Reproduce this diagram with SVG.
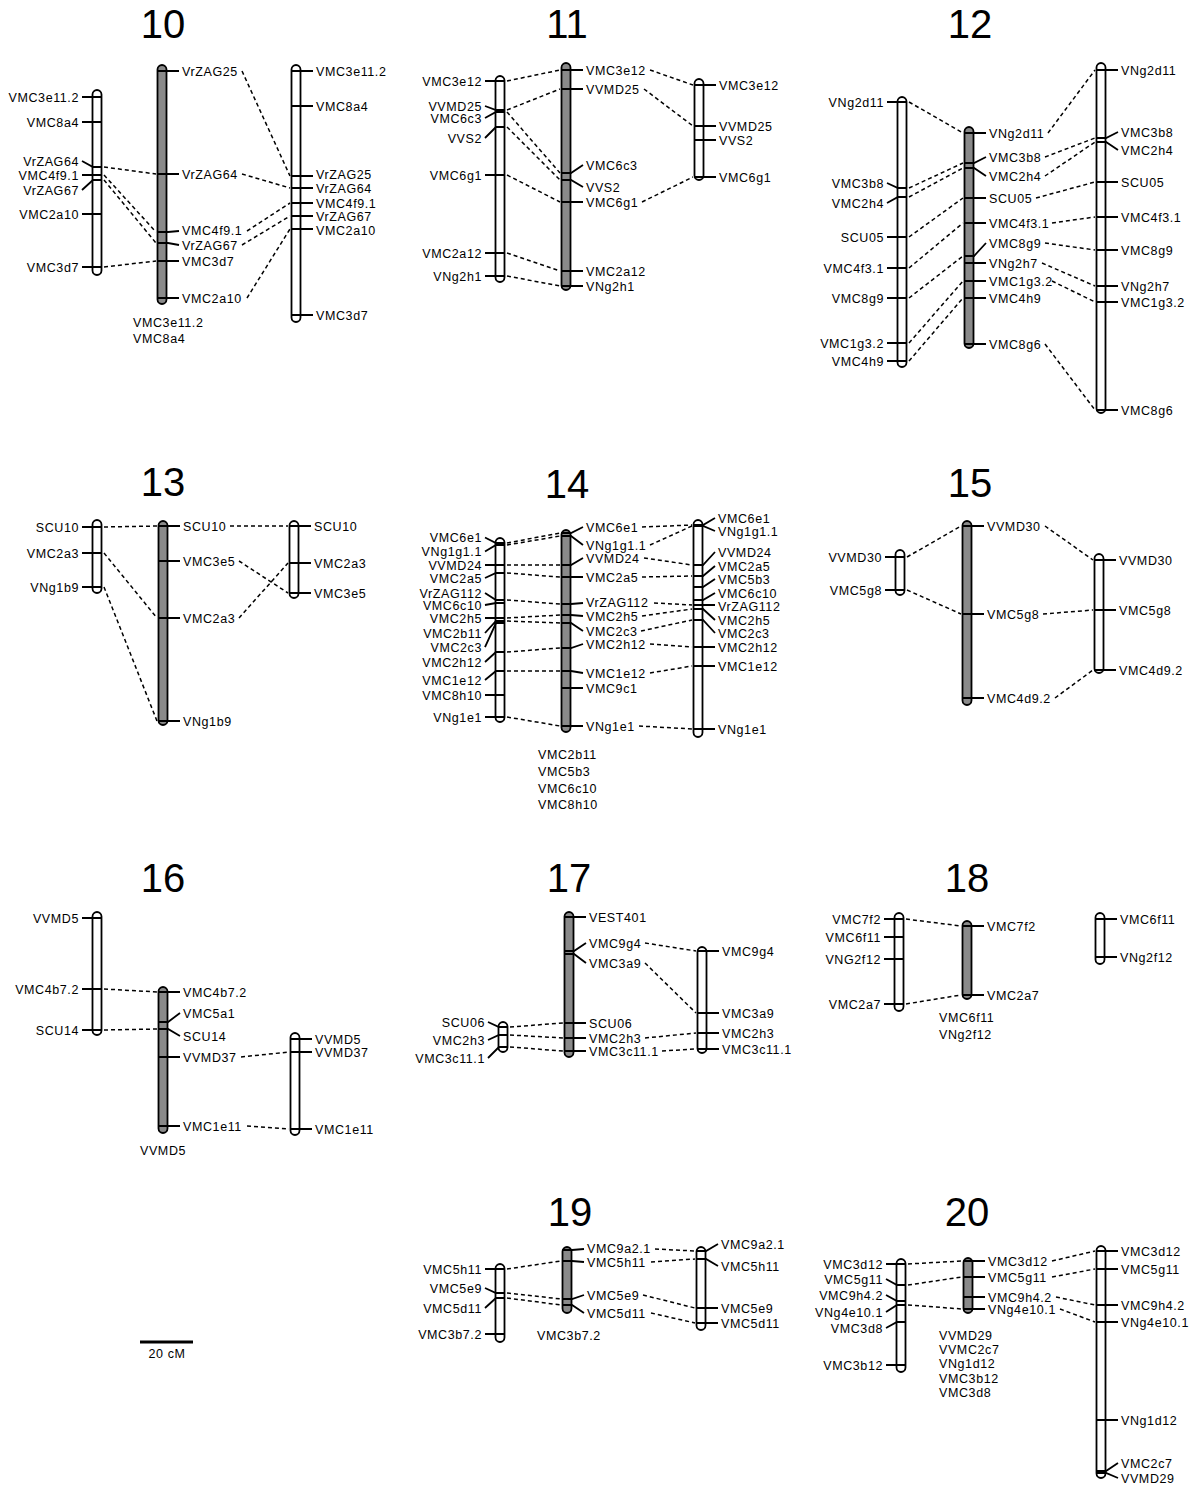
<svg xmlns="http://www.w3.org/2000/svg" width="1197" height="1487" viewBox="0 0 1197 1487">
<style>
.c{fill:#fff;stroke:#000;stroke-width:1.8}
.g{fill:#8a8a8a}
.t{fill:none;stroke:#000;stroke-width:1.8}
.d{fill:none;stroke:#000;stroke-width:1.5;stroke-dasharray:4 3}
text{font-family:"Liberation Sans",Arial,sans-serif;font-size:12.5px;letter-spacing:0.6px;fill:#000}
.e{text-anchor:end}
.h{font-size:40px;text-anchor:middle;letter-spacing:0}
.s{text-anchor:middle}
</style>
<rect width="1197" height="1487" fill="#fff"/>

<g id="titles">
<text class="h" x="163" y="38">10</text>
<text class="h" x="567" y="38">11</text>
<text class="h" x="970" y="38">12</text>
<text class="h" x="163" y="496">13</text>
<text class="h" x="567" y="498">14</text>
<text class="h" x="970" y="497">15</text>
<text class="h" x="163" y="892">16</text>
<text class="h" x="569" y="892">17</text>
<text class="h" x="967" y="892">18</text>
<text class="h" x="570" y="1226">19</text>
<text class="h" x="967" y="1226">20</text>
</g>

<g id="connectors">
<path class="d" d="M104 167L156 174M104 175L156 232M104 180L156 243M104 267L156 261M242 71L290 176M242 174L290 188M247 231L290 203M242 245L290 216M247 298L290 229"/>
<path class="d" d="M507 81L560 70M507 110L560 89M507 112L560 173M507 127L560 180M507 175L560 202M507 253L560 271M507 276L560 286M650 70L693 85M644 89L693 126M642 202L693 177"/>
<path class="d" d="M909 102L963 133M909 188L963 163M909 197L963 168M909 237L963 198M909 268L963 223M909 298L963 256M909 343L963 281M909 361L963 298M1048 133L1095 70M1045 157L1095 138M1045 176L1095 142M1036 198L1095 182M1052 223L1095 217M1045 243L1095 250M1042 263L1095 286M1052 281L1095 302M1045 344L1095 410"/>
<path class="d" d="M104 527L157 526M104 553L157 618M104 587L157 721M230 526L288 526M239 561L288 593M239 618L288 563"/>
<path class="d" d="M507 543L560 533M507 545L560 536M507 565L560 565M507 573L560 577M507 600L560 604M507 618L560 615M507 621L560 623M507 652L560 648M507 671L560 671M507 717L560 726M642 527L692 525M650 545L692 526M644 558L692 565M642 577L692 576M654 603L692 605M642 616L692 609M641 631L692 620M650 644L692 647M650 673L692 666M639 726L692 729"/>
<path class="d" d="M907 557L961 526M907 590L961 614M1045 526L1093 560M1043 614L1093 610M1055 698L1093 670"/>
<path class="d" d="M104 989L157 992M104 1030L157 1029M241 1057L289 1052M247 1126L289 1129"/>
<path class="d" d="M510 1027L563 1023M510 1035L563 1038M510 1047L563 1051M645 943L696 951M645 963L696 1013M645 1038L696 1033M662 1051L696 1049"/>
<path class="d" d="M906 919L961 926M906 1004L961 995"/>
<path class="d" d="M507 1269L561 1261M507 1293L561 1299M507 1298L561 1305M655 1249L695 1251M651 1262L695 1259M643 1295L695 1308M651 1313L695 1323"/>
<path class="d" d="M908 1264L962 1261M908 1285L962 1277M908 1305L962 1309M1052 1261L1095 1251M1052 1277L1095 1269M1056 1297L1095 1305M1060 1309L1095 1322"/>
</g>

<!-- Panel 10 -->
<g id="chr10-a">
<rect class="c" x="92.5" y="90" width="9" height="185" rx="4.5"/>
<path class="t" d="M82 97H101.5M82 122H101.5M82 161L93 167H101.5M82 175H101.5M82 190L93 180H101.5M82 214H101.5M82 267H101.5"/>
<text class="e" x="79" y="101.5">VMC3e11.2</text>
<text class="e" x="79" y="126.5">VMC8a4</text>
<text class="e" x="79" y="165.5">VrZAG64</text>
<text class="e" x="79" y="179.5">VMC4f9.1</text>
<text class="e" x="79" y="194.5">VrZAG67</text>
<text class="e" x="79" y="218.5">VMC2a10</text>
<text class="e" x="79" y="271.5">VMC3d7</text>
</g>
<g id="chr10-b">
<rect class="c g" x="157.5" y="65" width="9" height="239" rx="4.5"/>
<path class="t" d="M157.5 71H179M157.5 174H179M157.5 232H168L179 231M157.5 243H168L179 245M157.5 261H179M157.5 298H179"/>
<text x="182" y="75.5">VrZAG25</text>
<text x="182" y="178.5">VrZAG64</text>
<text x="182" y="235">VMC4f9.1</text>
<text x="182" y="249.5">VrZAG67</text>
<text x="182" y="265.5">VMC3d7</text>
<text x="182" y="302.5">VMC2a10</text>
<text x="133" y="326.5">VMC3e11.2</text>
<text x="133" y="342.5">VMC8a4</text>
</g>
<g id="chr10-c">
<rect class="c" x="291.5" y="65" width="9" height="257" rx="4.5"/>
<path class="t" d="M291.5 71H313M291.5 106H313M291.5 176H313M291.5 188H313M291.5 203H313M291.5 216H313M291.5 229H313M291.5 315H313"/>
<text x="316" y="75.5">VMC3e11.2</text>
<text x="316" y="110.5">VMC8a4</text>
<text x="316" y="178.5">VrZAG25</text>
<text x="316" y="192.5">VrZAG64</text>
<text x="316" y="207.5">VMC4f9.1</text>
<text x="316" y="220.5">VrZAG67</text>
<text x="316" y="234.5">VMC2a10</text>
<text x="316" y="319.5">VMC3d7</text>
</g>

<!-- Panel 11 -->
<g id="chr11-a">
<rect class="c" x="495.5" y="76" width="9" height="206" rx="4.5"/>
<path class="t" d="M485 81H504.5M485 106L496 110H504.5M485 118L496 112H504.5M485 138L496 127H504.5M485 175H504.5M485 253H504.5M485 276H504.5"/>
<text class="e" x="482" y="85.5">VMC3e12</text>
<text class="e" x="482" y="110.5">VVMD25</text>
<text class="e" x="482" y="122.5">VMC6c3</text>
<text class="e" x="482" y="142.5">VVS2</text>
<text class="e" x="482" y="179.5">VMC6g1</text>
<text class="e" x="482" y="257.5">VMC2a12</text>
<text class="e" x="482" y="280.5">VNg2h1</text>
</g>
<g id="chr11-b">
<rect class="c g" x="561.5" y="63" width="9" height="227" rx="4.5"/>
<path class="t" d="M561.5 70H583M561.5 89H583M561.5 173H571L583 165M561.5 180H571L583 187M561.5 202H583M561.5 271H583M561.5 286H583"/>
<text x="586" y="74.5">VMC3e12</text>
<text x="586" y="93.5">VVMD25</text>
<text x="586" y="169.5">VMC6c3</text>
<text x="586" y="191.5">VVS2</text>
<text x="586" y="206.5">VMC6g1</text>
<text x="586" y="275.5">VMC2a12</text>
<text x="586" y="290.5">VNg2h1</text>
</g>
<g id="chr11-c">
<rect class="c" x="694.5" y="79" width="9" height="101" rx="4.5"/>
<path class="t" d="M694.5 85H716M694.5 126H716M694.5 140H716M694.5 177H716"/>
<text x="719" y="89.5">VMC3e12</text>
<text x="719" y="130.5">VVMD25</text>
<text x="719" y="144.5">VVS2</text>
<text x="719" y="181.5">VMC6g1</text>
</g>

<!-- Panel 12 -->
<g id="chr12-a">
<rect class="c" x="897.5" y="97" width="9" height="270" rx="4.5"/>
<path class="t" d="M887 102H906.5M887 183L898 188H906.5M887 203L898 197H906.5M887 237H906.5M887 268H906.5M887 298H906.5M887 343H906.5M887 361H906.5"/>
<text class="e" x="884" y="106.5">VNg2d11</text>
<text class="e" x="884" y="187.5">VMC3b8</text>
<text class="e" x="884" y="207.5">VMC2h4</text>
<text class="e" x="884" y="241.5">SCU05</text>
<text class="e" x="884" y="272.5">VMC4f3.1</text>
<text class="e" x="884" y="302.5">VMC8g9</text>
<text class="e" x="884" y="347.5">VMC1g3.2</text>
<text class="e" x="884" y="365.5">VMC4h9</text>
</g>
<g id="chr12-b">
<rect class="c g" x="964.5" y="127" width="9" height="221" rx="4.5"/>
<path class="t" d="M964.5 133H986M964.5 163H974L986 157M964.5 168H974L986 176M964.5 198H986M964.5 223H986M964.5 256H974L986 243M964.5 263H986M964.5 281H986M964.5 298H986M964.5 344H986"/>
<text x="989" y="137.5">VNg2d11</text>
<text x="989" y="161.5">VMC3b8</text>
<text x="989" y="180.5">VMC2h4</text>
<text x="989" y="202.5">SCU05</text>
<text x="989" y="227.5">VMC4f3.1</text>
<text x="989" y="247.5">VMC8g9</text>
<text x="989" y="267.5">VNg2h7</text>
<text x="989" y="285.5">VMC1g3.2</text>
<text x="989" y="302.5">VMC4h9</text>
<text x="989" y="348.5">VMC8g6</text>
</g>
<g id="chr12-c">
<rect class="c" x="1096.5" y="63" width="9" height="350" rx="4.5"/>
<path class="t" d="M1096.5 70H1118M1096.5 138H1106L1118 132M1096.5 142H1106L1118 150M1096.5 182H1118M1096.5 217H1118M1096.5 250H1118M1096.5 286H1118M1096.5 302H1118M1096.5 410H1118"/>
<text x="1121" y="74.5">VNg2d11</text>
<text x="1121" y="136.5">VMC3b8</text>
<text x="1121" y="154.5">VMC2h4</text>
<text x="1121" y="186.5">SCU05</text>
<text x="1121" y="221.5">VMC4f3.1</text>
<text x="1121" y="254.5">VMC8g9</text>
<text x="1121" y="290.5">VNg2h7</text>
<text x="1121" y="306.5">VMC1g3.2</text>
<text x="1121" y="414.5">VMC8g6</text>
</g>

<!-- Panel 13 -->
<g id="chr13-a">
<rect class="c" x="92.5" y="520" width="9" height="73" rx="4.5"/>
<path class="t" d="M82 527H101.5M82 553H101.5M82 587H101.5"/>
<text class="e" x="79" y="531.5">SCU10</text>
<text class="e" x="79" y="557.5">VMC2a3</text>
<text class="e" x="79" y="591.5">VNg1b9</text>
</g>
<g id="chr13-b">
<rect class="c g" x="158.5" y="521" width="9" height="204" rx="4.5"/>
<path class="t" d="M158.5 526H180M158.5 561H180M158.5 618H180M158.5 721H180"/>
<text x="183" y="530.5">SCU10</text>
<text x="183" y="565.5">VMC3e5</text>
<text x="183" y="622.5">VMC2a3</text>
<text x="183" y="725.5">VNg1b9</text>
</g>
<g id="chr13-c">
<rect class="c" x="289.5" y="521" width="9" height="77" rx="4.5"/>
<path class="t" d="M289.5 526H311M289.5 563H311M289.5 593H311"/>
<text x="314" y="530.5">SCU10</text>
<text x="314" y="567.5">VMC2a3</text>
<text x="314" y="597.5">VMC3e5</text>
</g>

<!-- Panel 14 -->
<g id="chr14-a">
<rect class="c" x="495.5" y="538" width="9" height="184" rx="4.5"/>
<path class="t" d="M485 537.5L496 543H504.5M485 551.5L496 545H504.5M485 565H504.5M485 578L496 573H504.5M485 593L496 600H504.5M485 605L496 603H504.5M485 618H504.5M485 633L496 621H504.5M485 647L496 623H504.5M485 662L496 652H504.5M485 680L496 671H504.5M485 695H504.5M485 717H504.5"/>
<text class="e" x="482" y="542">VMC6e1</text>
<text class="e" x="482" y="556">VNg1g1.1</text>
<text class="e" x="482" y="569.5">VVMD24</text>
<text class="e" x="482" y="582.5">VMC2a5</text>
<text class="e" x="482" y="597.5">VrZAG112</text>
<text class="e" x="482" y="609.5">VMC6c10</text>
<text class="e" x="482" y="622.5">VMC2h5</text>
<text class="e" x="482" y="637.5">VMC2b11</text>
<text class="e" x="482" y="651.5">VMC2c3</text>
<text class="e" x="482" y="666.5">VMC2h12</text>
<text class="e" x="482" y="684.5">VMC1e12</text>
<text class="e" x="482" y="699.5">VMC8h10</text>
<text class="e" x="482" y="721.5">VNg1e1</text>
</g>
<g id="chr14-b">
<rect class="c g" x="561.5" y="530" width="9" height="202" rx="4.5"/>
<path class="t" d="M561.5 533H571L583 527M561.5 536H571L583 545M561.5 565H571L583 558M561.5 577H583M561.5 604H571L583 603M561.5 615H571L583 616M561.5 623H571L583 631M561.5 648H571L583 644M561.5 671H571L583 673M561.5 688H583M561.5 726H583"/>
<text x="586" y="531.5">VMC6e1</text>
<text x="586" y="549.5">VNg1g1.1</text>
<text x="586" y="562.5">VVMD24</text>
<text x="586" y="581.5">VMC2a5</text>
<text x="586" y="607">VrZAG112</text>
<text x="586" y="621">VMC2h5</text>
<text x="586" y="635.5">VMC2c3</text>
<text x="586" y="648.5">VMC2h12</text>
<text x="586" y="677.5">VMC1e12</text>
<text x="586" y="692.5">VMC9c1</text>
<text x="586" y="730.5">VNg1e1</text>
<text x="538" y="758.5">VMC2b11</text>
<text x="538" y="775.5">VMC5b3</text>
<text x="538" y="792.5">VMC6c10</text>
<text x="538" y="808.5">VMC8h10</text>
</g>
<g id="chr14-c">
<rect class="c" x="693.5" y="520" width="9" height="217" rx="4.5"/>
<path class="t" d="M693.5 525H703L715 518M693.5 526H703L715 531M693.5 565H703L715 552M693.5 576H703L715 566M693.5 587H703L715 579M693.5 600H703L715 593M693.5 605H715M693.5 609H703L715 620M693.5 620H703L715 633M693.5 647H715M693.5 666H715M693.5 729H715"/>
<text x="718" y="522.5">VMC6e1</text>
<text x="718" y="535.5">VNg1g1.1</text>
<text x="718" y="556.5">VVMD24</text>
<text x="718" y="570.5">VMC2a5</text>
<text x="718" y="583.5">VMC5b3</text>
<text x="718" y="597.5">VMC6c10</text>
<text x="718" y="610.5">VrZAG112</text>
<text x="718" y="624.5">VMC2h5</text>
<text x="718" y="637.5">VMC2c3</text>
<text x="718" y="651.5">VMC2h12</text>
<text x="718" y="670.5">VMC1e12</text>
<text x="718" y="733.5">VNg1e1</text>
</g>

<!-- Panel 15 -->
<g id="chr15-a">
<rect class="c" x="895.5" y="550" width="9" height="45" rx="4.5"/>
<path class="t" d="M885 557H904.5M885 590H904.5"/>
<text class="e" x="882" y="561.5">VVMD30</text>
<text class="e" x="882" y="594.5">VMC5g8</text>
</g>
<g id="chr15-b">
<rect class="c g" x="962.5" y="521" width="9" height="184" rx="4.5"/>
<path class="t" d="M962.5 526H984M962.5 614H984M962.5 698H984"/>
<text x="987" y="530.5">VVMD30</text>
<text x="987" y="618.5">VMC5g8</text>
<text x="987" y="702.5">VMC4d9.2</text>
</g>
<g id="chr15-c">
<rect class="c" x="1094.5" y="554" width="9" height="119" rx="4.5"/>
<path class="t" d="M1094.5 560H1116M1094.5 610H1116M1094.5 670H1116"/>
<text x="1119" y="564.5">VVMD30</text>
<text x="1119" y="614.5">VMC5g8</text>
<text x="1119" y="674.5">VMC4d9.2</text>
</g>

<!-- Panel 16 -->
<g id="chr16-a">
<rect class="c" x="92.5" y="912" width="9" height="123" rx="4.5"/>
<path class="t" d="M82 918H101.5M82 989H101.5M82 1030H101.5"/>
<text class="e" x="79" y="922.5">VVMD5</text>
<text class="e" x="79" y="993.5">VMC4b7.2</text>
<text class="e" x="79" y="1034.5">SCU14</text>
</g>
<g id="chr16-b">
<rect class="c g" x="158.5" y="987" width="9" height="146" rx="4.5"/>
<path class="t" d="M158.5 992H180M158.5 1022H168L180 1013M158.5 1029H168L180 1036M158.5 1057H180M158.5 1126H180"/>
<text x="183" y="996.5">VMC4b7.2</text>
<text x="183" y="1017.5">VMC5a1</text>
<text x="183" y="1040.5">SCU14</text>
<text x="183" y="1061.5">VVMD37</text>
<text x="183" y="1130.5">VMC1e11</text>
<text x="140" y="1154.5">VVMD5</text>
</g>
<g id="chr16-c">
<rect class="c" x="290.5" y="1033" width="9" height="102" rx="4.5"/>
<path class="t" d="M290.5 1039H312M290.5 1052H312M290.5 1129H312"/>
<text x="315" y="1043.5">VVMD5</text>
<text x="315" y="1056.5">VVMD37</text>
<text x="315" y="1133.5">VMC1e11</text>
</g>

<!-- Panel 17 -->
<g id="chr17-a">
<rect class="c" x="498.5" y="1022" width="9" height="30" rx="4.5"/>
<path class="t" d="M488 1022L499 1027H507.5M488 1040L499 1035H507.5M488 1058L499 1047H507.5"/>
<text class="e" x="485" y="1026.5">SCU06</text>
<text class="e" x="485" y="1044.5">VMC2h3</text>
<text class="e" x="485" y="1062.5">VMC3c11.1</text>
</g>
<g id="chr17-b">
<rect class="c g" x="564.5" y="912" width="9" height="145" rx="4.5"/>
<path class="t" d="M564.5 917H586M564.5 951H574L586 943M564.5 954H574L586 963M564.5 1023H586M564.5 1038H586M564.5 1051H586"/>
<text x="589" y="921.5">VEST401</text>
<text x="589" y="947.5">VMC9g4</text>
<text x="589" y="967.5">VMC3a9</text>
<text x="589" y="1027.5">SCU06</text>
<text x="589" y="1042.5">VMC2h3</text>
<text x="589" y="1055.5">VMC3c11.1</text>
</g>
<g id="chr17-c">
<rect class="c" x="697.5" y="947" width="9" height="106" rx="4.5"/>
<path class="t" d="M697.5 951H719M697.5 1013H719M697.5 1033H719M697.5 1049H719"/>
<text x="722" y="955.5">VMC9g4</text>
<text x="722" y="1017.5">VMC3a9</text>
<text x="722" y="1037.5">VMC2h3</text>
<text x="722" y="1053.5">VMC3c11.1</text>
</g>

<!-- Panel 18 -->
<g id="chr18-a">
<rect class="c" x="894.5" y="913" width="9" height="98" rx="4.5"/>
<path class="t" d="M884 919H903.5M884 937H903.5M884 959H903.5M884 1004H903.5"/>
<text class="e" x="881" y="923.5">VMC7f2</text>
<text class="e" x="881" y="941.5">VMC6f11</text>
<text class="e" x="881" y="963.5">VNG2f12</text>
<text class="e" x="881" y="1008.5">VMC2a7</text>
</g>
<g id="chr18-b">
<rect class="c g" x="962.5" y="921" width="9" height="78" rx="4.5"/>
<path class="t" d="M962.5 926H984M962.5 995H984"/>
<text x="987" y="930.5">VMC7f2</text>
<text x="987" y="999.5">VMC2a7</text>
<text x="939" y="1021.5">VMC6f11</text>
<text x="939" y="1038.5">VNg2f12</text>
</g>
<g id="chr18-c">
<rect class="c" x="1095.5" y="913" width="9" height="51" rx="4.5"/>
<path class="t" d="M1095.5 919H1117M1095.5 957H1117"/>
<text x="1120" y="923.5">VMC6f11</text>
<text x="1120" y="961.5">VNg2f12</text>
</g>

<!-- Panel 19 -->
<g id="chr19-a">
<rect class="c" x="495.5" y="1264" width="9" height="78" rx="4.5"/>
<path class="t" d="M485 1269H504.5M485 1288L496 1293H504.5M485 1308L496 1298H504.5M485 1334H504.5"/>
<text class="e" x="482" y="1273.5">VMC5h11</text>
<text class="e" x="482" y="1292.5">VMC5e9</text>
<text class="e" x="482" y="1312.5">VMC5d11</text>
<text class="e" x="482" y="1338.5">VMC3b7.2</text>
</g>
<g id="chr19-b">
<rect class="c g" x="562.5" y="1247" width="9" height="66" rx="4.5"/>
<path class="t" d="M562.5 1250H572L584 1249M562.5 1261H572L584 1262M562.5 1299H572L584 1295M562.5 1305H572L584 1313"/>
<text x="587" y="1253">VMC9a2.1</text>
<text x="587" y="1267">VMC5h11</text>
<text x="587" y="1299.5">VMC5e9</text>
<text x="587" y="1317.5">VMC5d11</text>
<text x="537" y="1339.5">VMC3b7.2</text>
</g>
<g id="chr19-c">
<rect class="c" x="696.5" y="1247" width="9" height="83" rx="4.5"/>
<path class="t" d="M696.5 1251H706L718 1244M696.5 1259H706L718 1266M696.5 1308H718M696.5 1323H718"/>
<text x="721" y="1248.5">VMC9a2.1</text>
<text x="721" y="1270.5">VMC5h11</text>
<text x="721" y="1312.5">VMC5e9</text>
<text x="721" y="1327.5">VMC5d11</text>
</g>

<!-- Panel 20 -->
<g id="chr20-a">
<rect class="c" x="896.5" y="1259" width="9" height="113" rx="4.5"/>
<path class="t" d="M886 1264H905.5M886 1279L897 1285H905.5M886 1295L897 1301H905.5M886 1312L897 1305H905.5M886 1328L897 1322H905.5M886 1365H905.5"/>
<text class="e" x="883" y="1268.5">VMC3d12</text>
<text class="e" x="883" y="1283.5">VMC5g11</text>
<text class="e" x="883" y="1299.5">VMC9h4.2</text>
<text class="e" x="883" y="1316.5">VNg4e10.1</text>
<text class="e" x="883" y="1332.5">VMC3d8</text>
<text class="e" x="883" y="1369.5">VMC3b12</text>
</g>
<g id="chr20-b">
<rect class="c g" x="963.5" y="1258" width="9" height="55" rx="4.5"/>
<path class="t" d="M963.5 1261H985M963.5 1277H985M963.5 1297H985M963.5 1309H985"/>
<text x="988" y="1265.5">VMC3d12</text>
<text x="988" y="1281.5">VMC5g11</text>
<text x="988" y="1301.5">VMC9h4.2</text>
<text x="988" y="1313.5">VNg4e10.1</text>
<text x="939" y="1339.5">VVMD29</text>
<text x="939" y="1353.5">VVMC2c7</text>
<text x="939" y="1367.5">VNg1d12</text>
<text x="939" y="1382.5">VMC3b12</text>
<text x="939" y="1396.5">VMC3d8</text>
</g>
<g id="chr20-c">
<rect class="c" x="1096.5" y="1246" width="9" height="232" rx="4.5"/>
<path class="t" d="M1096.5 1251H1118M1096.5 1269H1118M1096.5 1305H1118M1096.5 1322H1118M1096.5 1420H1118M1096.5 1471H1106L1118 1463M1096.5 1473H1106L1118 1478"/>
<text x="1121" y="1255.5">VMC3d12</text>
<text x="1121" y="1273.5">VMC5g11</text>
<text x="1121" y="1309.5">VMC9h4.2</text>
<text x="1121" y="1326.5">VNg4e10.1</text>
<text x="1121" y="1424.5">VNg1d12</text>
<text x="1121" y="1467.5">VMC2c7</text>
<text x="1121" y="1482.5">VVMD29</text>
</g>

<g id="scale">
<path d="M140 1342H193" stroke="#000" stroke-width="3"/>
<text class="s" x="167" y="1358">20 cM</text>
</g>
</svg>
